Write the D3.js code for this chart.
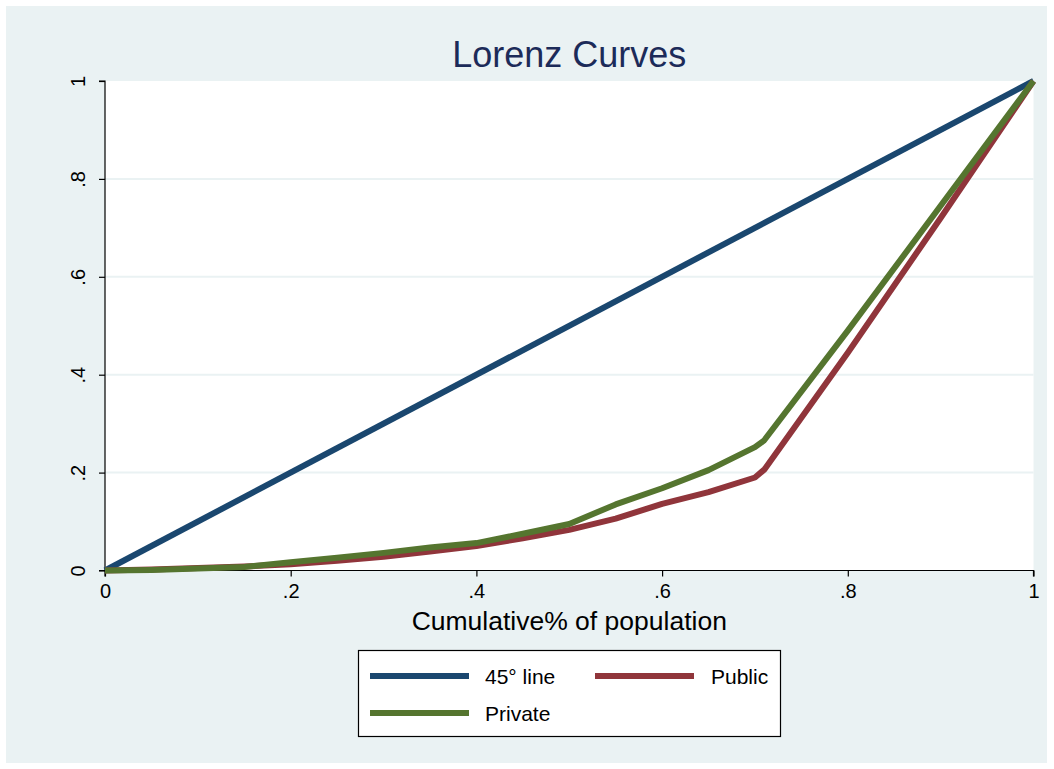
<!DOCTYPE html>
<html>
<head>
<meta charset="utf-8">
<script src="https://cdn.jsdelivr.net/npm/d3@7"></script>
<style>
  html, body { margin: 0; padding: 0; background: #ffffff; }
  svg { display: block; }
  text { font-family: "Liberation Sans", Arial, sans-serif; }
</style>
</head>
<body>
<svg id="chart" width="1054" height="769"></svg>
<script>
// ---- data ----
const title = "Lorenz Curves";
const xTitle = "Cumulative% of population";
const popShare = [0, 0.05, 0.10, 0.15, 0.20, 0.25, 0.30, 0.35, 0.40, 0.45, 0.50, 0.55, 0.60, 0.65, 0.70, 0.71, 0.80, 0.90, 1.00];
const publicShare = [0, 0.002, 0.005, 0.008, 0.013, 0.020, 0.028, 0.039, 0.050, 0.066, 0.083, 0.106, 0.136, 0.160, 0.190, 0.206, 0.445, 0.720, 1.00];
const privateShare = [0, 0.001, 0.004, 0.007, 0.017, 0.026, 0.036, 0.047, 0.056, 0.075, 0.095, 0.135, 0.168, 0.205, 0.252, 0.266, 0.490, 0.745, 1.00];
const lineX = [0, 1];
const lineY = [0, 1];
const xTicks = [0, 0.2, 0.4, 0.6, 0.8, 1];
const yTicks = [0, 0.2, 0.4, 0.6, 0.8, 1];
const tickLabel = v => v === 0 ? "0" : v === 1 ? "1" : String(v).replace(/^0/, "");
const seriesNames = ["45° line", "Public", "Private"];
const seriesColors = ["#1a476f", "#90353b", "#55752f"];

// ---- layout ----
const svg = d3.select("#chart");
const W = 1054, H = 769;
const plot = { left: 105, right: 1033.5, top: 81, bottom: 570.5 };
const FONT = "'Liberation Sans', Arial, sans-serif";

svg.append("rect").attr("x", 6).attr("y", 6).attr("width", W - 13).attr("height", H - 12)
  .attr("fill", "#eaf2f3");

const x = d3.scaleLinear().domain([0, 1]).range([plot.left, plot.right]);
const y = d3.scaleLinear().domain([0, 1]).range([plot.bottom, plot.top]);

svg.append("rect").attr("x", plot.left).attr("y", plot.top)
  .attr("width", plot.right - plot.left).attr("height", plot.bottom - plot.top)
  .attr("fill", "#ffffff");

// gridlines
svg.append("g").selectAll("line").data(yTicks.filter(v => v > 0 && v < 1)).join("line")
  .attr("x1", plot.left).attr("x2", plot.right)
  .attr("y1", d => y(d)).attr("y2", d => y(d))
  .attr("stroke", "#eaf2f3").attr("stroke-width", 2);

// axes
const xAxis = d3.axisBottom(x).tickValues(xTicks).tickFormat(tickLabel).tickSize(6).tickPadding(4);
const gx = svg.append("g").attr("transform", `translate(0,${plot.bottom})`).call(xAxis);
gx.attr("font-size", null).attr("font-family", null);
gx.select(".domain").attr("stroke", "#000").attr("stroke-width", 1.2).attr("d", `M${plot.left},6V0H${plot.right}V6`);
gx.selectAll(".tick line").attr("stroke", "#000").attr("stroke-width", 1.2);
gx.selectAll(".tick text").style("font-size", "20px").style("font-family", FONT).attr("fill", "#000")
  .attr("y", 13).attr("dy", "0.72em");

const yAxis = d3.axisLeft(y).tickValues(yTicks).tickFormat(tickLabel).tickSize(6).tickPadding(4);
const gy = svg.append("g").attr("transform", `translate(${plot.left},0)`).call(yAxis);
gy.attr("font-size", null).attr("font-family", null);
gy.select(".domain").attr("stroke", "#000").attr("stroke-width", 1.2).attr("d", `M-6,${plot.bottom}H0V${plot.top}H-6`);
gy.selectAll(".tick line").attr("stroke", "#000").attr("stroke-width", 1.2);
gy.selectAll(".tick text")
  .style("font-size", "20px").style("font-family", FONT).attr("fill", "#000")
  .attr("x", null).attr("dy", null)
  .attr("text-anchor", "middle")
  .attr("transform", "translate(-20,0) rotate(-90)");

// lines
const line = d3.line().x(d => x(d[0])).y(d => y(d[1]));
const series = [
  d3.zip(lineX, lineY),
  d3.zip(popShare, publicShare),
  d3.zip(popShare, privateShare)
];
svg.append("g").selectAll("path").data(series).join("path")
  .attr("d", line)
  .attr("fill", "none")
  .attr("stroke", (d, i) => seriesColors[i])
  .attr("stroke-width", 6)
  .attr("stroke-linejoin", "round");

// title
svg.append("text").attr("x", (plot.left + plot.right) / 2).attr("y", 67)
  .attr("text-anchor", "middle").style("font-size", "36px").attr("fill", "#1c2b59").text(title);

// x title
svg.append("text").attr("x", (plot.left + plot.right) / 2).attr("y", 630)
  .attr("text-anchor", "middle").style("font-size", "26.5px").attr("fill", "#000").text(xTitle);

// legend
const lg = svg.append("g");
lg.append("rect").attr("x", 358.5).attr("y", 650.5).attr("width", 422).attr("height", 86)
  .attr("fill", "#fff").attr("stroke", "#000").attr("stroke-width", 1.2);
const legendPos = [
  { lx: 370, ty: 676, tx: 485 },
  { lx: 595, ty: 676, tx: 711 },
  { lx: 370, ty: 713, tx: 485 }
];
seriesNames.forEach((name, i) => {
  const p = legendPos[i];
  lg.append("line").attr("x1", p.lx).attr("x2", p.lx + 99).attr("y1", p.ty).attr("y2", p.ty)
    .attr("stroke", seriesColors[i]).attr("stroke-width", 6);
  lg.append("text").attr("x", p.tx).attr("y", p.ty + 8).style("font-size", "21px").attr("fill", "#000").text(name);
});
</script>
</body>
</html>
